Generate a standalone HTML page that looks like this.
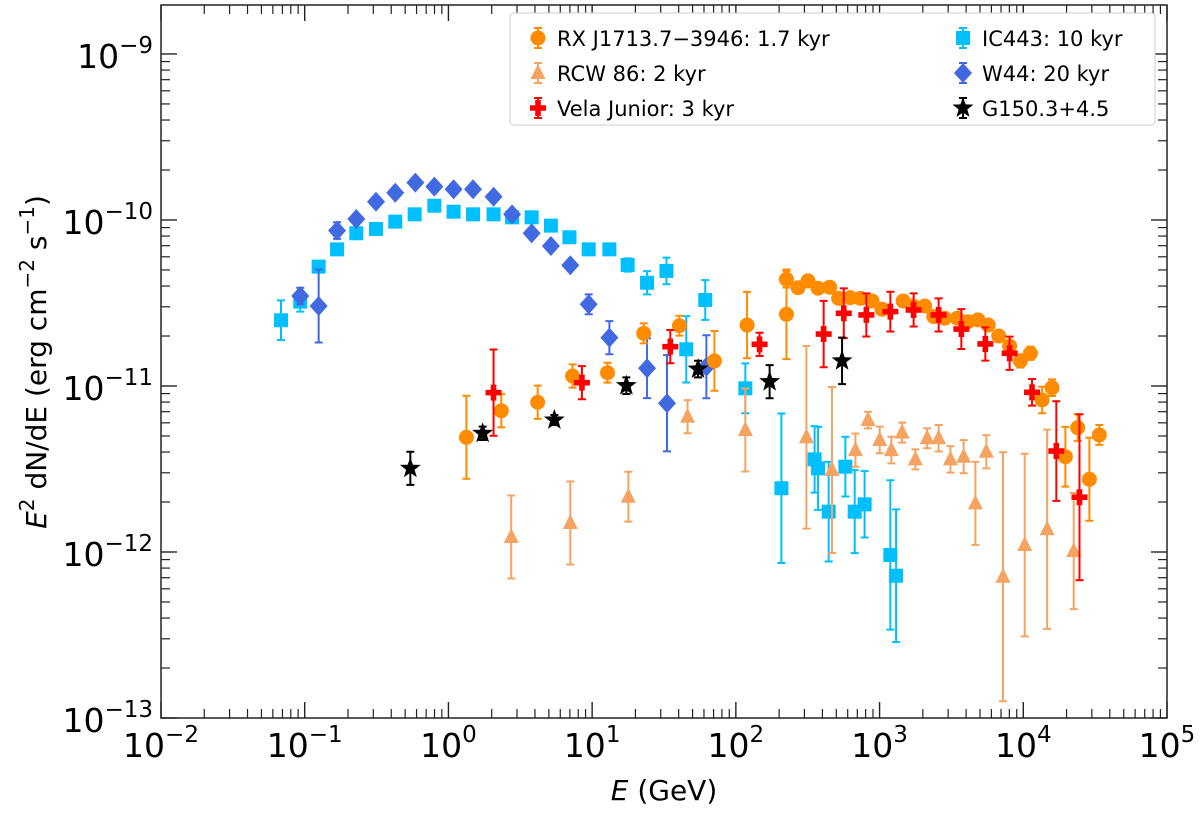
<!DOCTYPE html>
<html><head><meta charset="utf-8"><style>
body{margin:0;background:#fff;}
svg text{font-family:"DejaVu Sans","Liberation Sans",sans-serif;}
</style></head><body>
<svg id="chart" width="1200" height="810" xmlns="http://www.w3.org/2000/svg"></svg>
<script>
// ---- data (log10 E in GeV, log10 E^2dN/dE in erg cm^-2 s^-1, symmetric error in dex) ----
const rxLogE=[0.125,0.368,0.621,0.864,1.107,1.359,1.607,1.851,2.078,2.352,2.352,2.433,2.502,2.572,2.653,2.715,2.796,2.867,2.948,3.017,3.164,3.233,3.314,3.377,3.453,3.540,3.616,3.685,3.756,3.829,3.905,3.980,4.050,4.131,4.200,4.293,4.379,4.460,4.529];
const rxLogF=[-11.309,-11.149,-11.098,-10.940,-10.920,-10.683,-10.637,-10.849,-10.633,-10.357,-10.568,-10.408,-10.367,-10.411,-10.405,-10.472,-10.468,-10.472,-10.488,-10.538,-10.488,-10.518,-10.518,-10.582,-10.592,-10.592,-10.613,-10.602,-10.633,-10.699,-10.759,-10.849,-10.803,-11.084,-11.010,-11.426,-11.251,-11.562,-11.295];
const rxErr=[0.25,0.1,0.1,0.07,0.06,0.06,0.06,0.18,0.2,0.05,0.27,0.03,0,0,0,0,0,0,0,0,0,0,0,0,0,0,0,0,0,0,0,0.04,0.04,0.08,0.05,0.18,0.08,0.25,0.06];

const rcwLogE=[0.437,0.848,1.252,1.664,2.066,2.491,2.669,2.832,2.920,3.001,3.082,3.157,3.249,3.331,3.411,3.493,3.585,3.667,3.743,3.859,4.010,4.166,4.351];
const rcwLogF=[-11.910,-11.825,-11.667,-11.185,-11.265,-11.309,-11.506,-11.386,-11.205,-11.325,-11.386,-11.281,-11.442,-11.315,-11.315,-11.442,-11.426,-11.707,-11.396,-12.149,-11.958,-11.863,-11.994];
const rcwErr=[0.25,0.25,0.15,0.1,0.25,0.55,0.5,0.1,0.05,0.08,0.08,0.06,0.06,0.06,0.08,0.08,0.1,0.25,0.1,0.75,0.55,0.6,0.35];

const velaLogE=[0.314,0.929,1.544,2.165,2.611,2.751,2.908,3.075,3.237,3.411,3.569,3.736,3.905,4.061,4.230,4.391];
const velaLogF=[-11.040,-10.980,-10.763,-10.749,-10.687,-10.562,-10.572,-10.552,-10.542,-10.572,-10.657,-10.747,-10.803,-11.038,-11.392,-11.670];
const velaErr=[0.26,0.1,0.1,0.07,0.2,0.15,0.13,0.12,0.1,0.1,0.12,0.1,0.1,0.08,0.3,0.5];

const icLogE=[-1.165,-1.031,-0.903,-0.775,-0.641,-0.504,-0.370,-0.235,-0.098,0.036,0.171,0.314,0.443,0.579,0.713,0.842,0.976,1.120,1.247,1.382,1.517,1.655,1.787,2.066,2.317,2.548,2.572,2.646,2.762,2.827,2.896,3.075,3.115];
const icLogF=[-10.604,-10.492,-10.281,-10.177,-10.080,-10.054,-10.010,-9.966,-9.914,-9.950,-9.966,-9.966,-9.984,-9.984,-10.034,-10.104,-10.177,-10.177,-10.271,-10.378,-10.307,-10.779,-10.482,-11.014,-11.616,-11.442,-11.496,-11.757,-11.486,-11.757,-11.713,-12.018,-12.143];
const icErr=[0.12,0.06,0,0,0,0,0,0,0,0,0,0,0,0,0,0,0,0,0.04,0.07,0.08,0.2,0.12,0.15,0.45,0.2,0.25,0.3,0.18,0.25,0.2,0.45,0.4];

const w44LogE=[-1.031,-0.903,-0.775,-0.641,-0.504,-0.370,-0.230,-0.098,0.036,0.171,0.314,0.443,0.579,0.713,0.848,0.976,1.120,1.382,1.521,1.795];
const w44LogF=[-10.458,-10.518,-10.064,-9.994,-9.890,-9.836,-9.775,-9.799,-9.815,-9.815,-9.860,-9.966,-10.080,-10.157,-10.273,-10.508,-10.709,-10.893,-11.104,-10.884];
const w44Err=[0.05,0.22,0.05,0,0,0,0,0,0,0,0,0,0,0,0,0.06,0.1,0.18,0.29,0.19];

const gLogE=[-0.265,0.238,0.737,1.238,1.737,2.235,2.739];
const gLogF=[-11.496,-11.285,-11.205,-10.998,-10.898,-10.974,-10.849];
const gErr=[0.1,0.04,0.03,0.05,0.05,0.1,0.14];

const xTicks=[-2,-1,0,1,2,3,4,5];
const yTicks=[-13,-12,-11,-10,-9];

// ---- layout ----
const L=161,R=1167,T=5,B=718;
const xMin=-2,xMax=5,yMin=-13,yMax=-8.705;
const X=v=>L+(v-xMin)/(xMax-xMin)*(R-L);
const Y=v=>B-(v-yMin)/(yMax-yMin)*(B-T);
const svg=document.getElementById('chart');
const NS='http://www.w3.org/2000/svg';
function mk(tag,attrs,parent){const e=document.createElementNS(NS,tag);for(const k in attrs)e.setAttribute(k,attrs[k]);(parent||svg).appendChild(e);return e;}

const axisG=mk('g',{});


for(let d=-2;d<5;d++){for(let m=2;m<=9;m++){const x=X(d+Math.log10(m));
 mk('line',{x1:x,x2:x,y1:B,y2:B-9,stroke:'#222','stroke-width':1.2},axisG);
 mk('line',{x1:x,x2:x,y1:T,y2:T+9,stroke:'#222','stroke-width':1.2},axisG);}}
for(let d=-13;d<-8;d++){for(let m=2;m<=9;m++){const v=d+Math.log10(m);if(v>yMax)continue;const y=Y(v);
 mk('line',{x1:L,x2:L+9,y1:y,y2:y,stroke:'#222','stroke-width':1.2},axisG);
 mk('line',{x1:R,x2:R-9,y1:y,y2:y,stroke:'#222','stroke-width':1.2},axisG);}}
xTicks.forEach(t=>{const x=X(t);
 mk('line',{x1:x,x2:x,y1:B,y2:B-16,stroke:'#222','stroke-width':1.4},axisG);
 mk('line',{x1:x,x2:x,y1:T,y2:T+16,stroke:'#222','stroke-width':1.4},axisG);
 const tx=mk('text',{x:x-14,y:B+39,'font-size':33,'text-anchor':'middle'},axisG);
 
 
 tx.innerHTML='10<tspan dy="-15" font-size="23">'+(t<0?'\u2212'+(-t):t)+'</tspan>';
 tx.setAttribute('x',x); tx.setAttribute('text-anchor','middle');});
yTicks.forEach(t=>{const y=Y(t);
 mk('line',{x1:L,x2:L+16,y1:y,y2:y,stroke:'#222','stroke-width':1.4},axisG);
 mk('line',{x1:R,x2:R-16,y1:y,y2:y,stroke:'#222','stroke-width':1.4},axisG);
 const tx=mk('text',{x:L-8,y:y+14,'font-size':33,'text-anchor':'end'},axisG);
 
 
 tx.innerHTML='10<tspan dy="-15" font-size="23">\u2212'+(-t)+'</tspan>';});
const frame=mk('rect',{x:L,y:T,width:R-L,height:B-T,fill:'none',stroke:'#222','stroke-width':1.5},axisG);



const xl=mk('text',{x:(L+R)/2,y:800,'font-size':28,'text-anchor':'middle'});


xl.innerHTML='<tspan font-style="italic">E</tspan> (GeV)';
const yl=mk('text',{x:0,y:0,'font-size':28,'text-anchor':'middle',transform:'translate(46,362) rotate(-90)'});


yl.innerHTML='<tspan font-style="italic">E</tspan><tspan dy="-12" font-size="20">2</tspan><tspan dy="12"> dN/dE (erg cm</tspan><tspan dy="-12" font-size="20">\u22122</tspan><tspan dy="12"> s</tspan><tspan dy="-12" font-size="20">\u22121</tspan><tspan dy="12">)</tspan>';

function marker(type,x,y,color,g){
 if(type==='circle')return mk('circle',{cx:x,cy:y,r:7.5,fill:color},g);
 if(type==='square')return mk('rect',{x:x-7,y:y-7,width:14,height:14,fill:color},g);
 if(type==='diamond')return mk('polygon',{points:`${x},${y-10} ${x+9},${y} ${x},${y+10} ${x-9},${y}`,fill:color},g);
 if(type==='triangle')return mk('polygon',{points:`${x},${y-9} ${x+7.5},${y+6} ${x-7.5},${y+6}`,fill:color},g);
 if(type==='plus')return mk('path',{d:`M${x-2.8} ${y-8}h5.6v5.2h5.2v5.6h-5.2v5.2h-5.6v-5.2h-5.2v-5.6h5.2z`,fill:color},g);
 if(type==='star'){let pts=[];for(let i=0;i<10;i++){const a=-Math.PI/2+i*Math.PI/5;const r=i%2?4.5:11;pts.push((x+r*Math.cos(a)).toFixed(1)+','+(y+r*Math.sin(a)).toFixed(1));}
  return mk('polygon',{points:pts.join(' '),fill:color},g);}
}
function series(name,lx,ly,le,type,color){
 const g=mk('g',{});
 
 
 lx.forEach((v,i)=>{const x=X(v),y=Y(ly[i]);
  if(le[i]>0){const y1=Y(ly[i]+le[i]),y2=Y(ly[i]-le[i]);
   const eb=mk('path',{d:`M${x} ${y1}V${y2}M${x-4} ${y1}h8M${x-4} ${y2}h8`,stroke:color,'stroke-width':2,fill:'none'},g);
   
   }
  const m=marker(type,x,y,color,g);
  
  
 });
}
series('series-ic443',icLogE,icLogF,icErr,'square','#00BFFF');
series('series-w44',w44LogE,w44LogF,w44Err,'diamond','#4169E1');
series('series-rcw86',rcwLogE,rcwLogF,rcwErr,'triangle','#F4A460');
series('series-rxj1713',rxLogE,rxLogF,rxErr,'circle','#FF8C00');
series('series-vela-junior',velaLogE,velaLogF,velaErr,'plus','#FF0000');
series('series-g150',gLogE,gLogF,gErr,'star','#000000');

const lg=mk('g',{});


mk('rect',{x:510,y:13,width:645,height:112,rx:4,fill:'#fff',stroke:'#ccc','stroke-width':1},lg);
const entries=[['RX J1713.7\u22123946: 1.7 kyr','circle','#FF8C00',538,38],['RCW 86: 2 kyr','triangle','#F4A460',538,73],['Vela Junior: 3 kyr','plus','#FF0000',538,108],
 ['IC443: 10 kyr','square','#00BFFF',963,38],['W44: 20 kyr','diamond','#4169E1',963,73],['G150.3+4.5','star','#000000',963,108]];
entries.forEach(e=>{const g=mk('g',{},lg);
 
 
 mk('path',{d:`M${e[3]} ${e[4]-10}V${e[4]+10}M${e[3]-4} ${e[4]-10}h8M${e[3]-4} ${e[4]+10}h8`,stroke:e[2],'stroke-width':2},g);
 marker(e[1],e[3],e[4],e[2],g);
 const t=mk('text',{x:e[3]+19,y:e[4]+8,'font-size':21},g);
 t.textContent=e[0];});
</script>
</body></html>
